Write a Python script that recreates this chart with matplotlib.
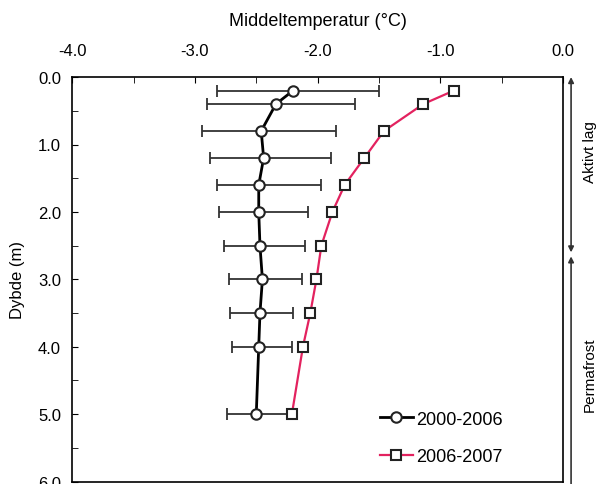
import matplotlib.pyplot as plt
import numpy as np

plt.rcParams['font.family'] = ['Liberation Sans', 'DejaVu Sans']

# dybder (m)
dybde = [0.2, 0.4, 0.8, 1.2, 1.6, 2.0, 2.5, 3.0, 3.5, 4.0, 5.0]

# 2000-2006 middel med min/max-ende af fejlstreg
temp_2000_2006 = [-2.20, -2.34, -2.46, -2.44, -2.48, -2.48, -2.47, -2.45, -2.47, -2.48, -2.50]
bar_lav = [-2.82, -2.90, -2.94, -2.88, -2.82, -2.80, -2.76, -2.72, -2.71, -2.70, -2.74]
bar_hoj = [-1.50, -1.70, -1.85, -1.89, -1.97, -2.08, -2.10, -2.13, -2.20, -2.21, -2.20]

# 2006-2007
temp_2006_2007 = [-0.89, -1.14, -1.46, -1.62, -1.78, -1.88, -1.97, -2.01, -2.06, -2.12, -2.21]

aktivt_lag = 2.6  # graense aktivt lag / permafrost

t1 = np.array(temp_2000_2006)
xerr = [t1 - np.array(bar_lav), np.array(bar_hoj) - t1]

fig = plt.figure(figsize=(5.96, 4.85), dpi=100)
ax = fig.add_axes([0.121, 0.005, 0.824, 0.834])

ax.errorbar(temp_2000_2006, dybde, xerr=xerr, fmt='none', ecolor='#333333',
            elinewidth=1.3, capsize=4, capthick=1.3, zorder=2)
ax.plot(temp_2000_2006, dybde, color='black', lw=2, marker='o', ms=7.5,
        mfc='white', mec='#222222', mew=1.5, label='2000-2006', zorder=3)
ax.plot(temp_2006_2007, dybde, color='#e3225f', lw=1.6, marker='s', ms=7.5,
        mfc='white', mec='#222222', mew=1.5, label='2006-2007', zorder=3)

ax.set_xlim(-4, 0)
ax.set_ylim(6, 0)
ax.xaxis.tick_top()
ax.xaxis.set_label_position('top')
ax.set_xticks(np.arange(-4, 0.1, 1.0))
ax.set_xticks(np.arange(-4, 0.1, 0.5), minor=True)
ax.set_yticks(np.arange(0, 6.1, 1.0))
ax.set_yticks(np.arange(0, 6.1, 0.5), minor=True)
ax.xaxis.set_major_formatter(plt.FormatStrFormatter('%.1f'))
ax.yaxis.set_major_formatter(plt.FormatStrFormatter('%.1f'))
ax.tick_params(which='both', direction='in', labelsize=12, length=4,
               top=True, bottom=False, left=True, right=False)
ax.tick_params(axis='x', which='major', pad=14)
ax.tick_params(axis='y', which='major', pad=8)
ax.tick_params(which='minor', labelleft=False, labeltop=False)
for s in ax.spines.values():
    s.set_linewidth(1.2)

ax.set_xlabel('Middeltemperatur (°C)', fontsize=13, labelpad=13)
ax.set_ylabel('Dybde (m)', fontsize=12, labelpad=9)

ax.legend(loc='lower right', bbox_to_anchor=(0.91, 0.0), frameon=False,
          fontsize=13, handlelength=1.8, handletextpad=0.2, labelspacing=1.15)

# pile til hoejre for plottet
tr = ax.get_yaxis_transform()
xa = 1.016
ax.annotate('', xy=(xa, 0), xytext=(xa, aktivt_lag), xycoords=tr, textcoords=tr,
            arrowprops=dict(arrowstyle='<|-|>', color='#333333', lw=1.2,
                            shrinkA=0, shrinkB=0, mutation_scale=8),
            annotation_clip=False)
ax.annotate('', xy=(xa, aktivt_lag + 0.06), xytext=(xa, 6.2), xycoords=tr, textcoords=tr,
            arrowprops=dict(arrowstyle='-|>', color='#333333', lw=1.2,
                            shrinkA=0, shrinkB=0, mutation_scale=8),
            annotation_clip=False)
ax.text(1.054, 1.1, 'Aktivt lag', transform=tr, rotation=90, ha='center',
        va='center', fontsize=11, clip_on=False)
ax.text(1.054, 4.4, 'Permafrost', transform=tr, rotation=90, ha='center',
        va='center', fontsize=11, clip_on=False)

fig.savefig('out.png', dpi=100)
